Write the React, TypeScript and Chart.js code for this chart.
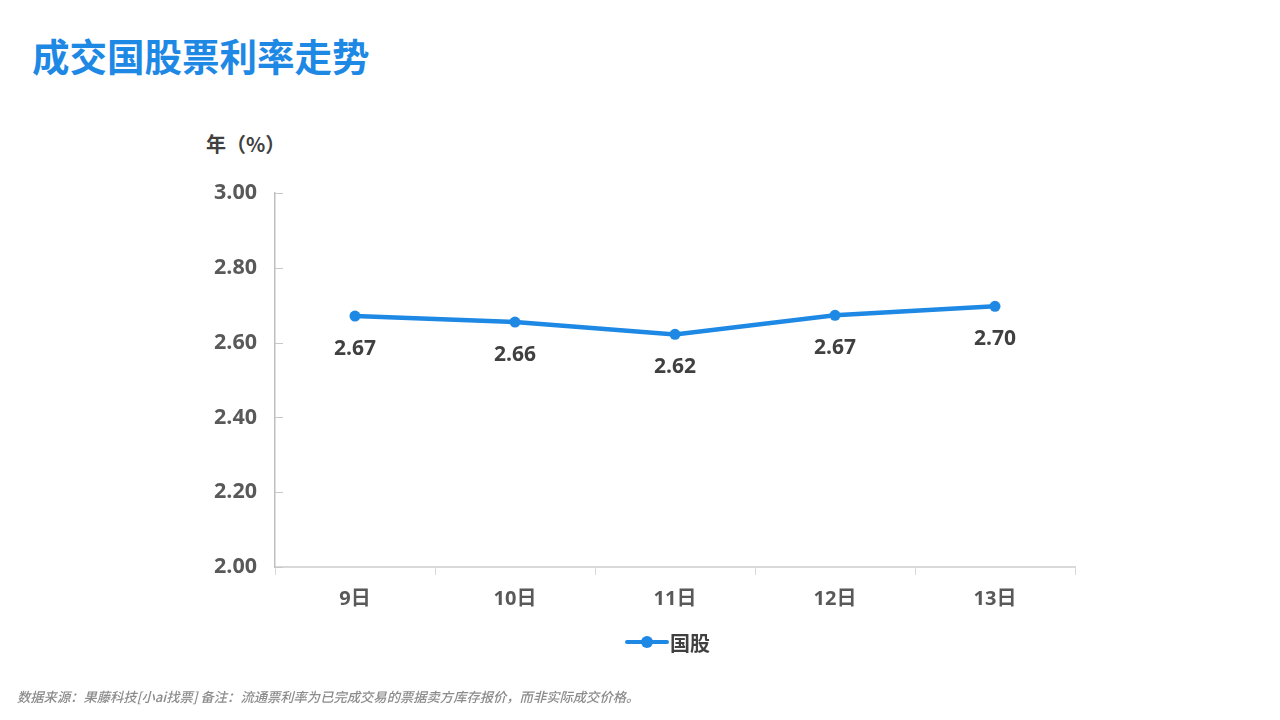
import React, { useEffect, useRef } from "react";
import { Chart, registerables } from "chart.js";

Chart.register(...registerables);

const categories = ["9日", "10日", "11日", "12日", "13日"];
const rates = [2.671, 2.655, 2.622, 2.673, 2.697];
const rateLabels = ["2.67", "2.66", "2.62", "2.67", "2.70"];
const yTicks = [2.0, 2.2, 2.4, 2.6, 2.8, 3.0];
const seriesName = "国股";

const BLUE = "#1E88E5";
const FONT = '"Open Sans", "Noto Sans CJK SC", sans-serif';

export default function App() {
  const ref = useRef<HTMLCanvasElement | null>(null);

  useEffect(() => {
    const canvas = ref.current;
    if (!canvas) return;

    const labelPlugin = {
      id: "pointLabels",
      afterDatasetsDraw(chart: any) {
        const ctx = chart.ctx;
        const meta = chart.getDatasetMeta(0);
        ctx.save();
        ctx.font = `bold 21px ${FONT}`;
        ctx.fillStyle = "#404040";
        ctx.textAlign = "center";
        ctx.textBaseline = "middle";
        meta.data.forEach((pt: any, i: number) => {
          ctx.fillText(rateLabels[i], pt.x, pt.y + 33);
        });
        ctx.restore();
      },
    };

    const yTickMarks = {
      id: "yTickMarks",
      afterDraw(chart: any) {
        const ctx = chart.ctx;
        const y = chart.scales.y;
        ctx.save();
        ctx.strokeStyle = "#c8c8c8";
        ctx.lineWidth = 1;
        yTicks.forEach((v) => {
          const py = Math.round(y.getPixelForValue(v)) + 0.5;
          ctx.beginPath();
          ctx.moveTo(chart.chartArea.left, py);
          ctx.lineTo(chart.chartArea.left + 8, py);
          ctx.stroke();
        });
        ctx.restore();
      },
    };

    const chart = new Chart(canvas, {
      type: "line",
      data: {
        labels: categories,
        datasets: [
          {
            label: seriesName,
            data: rates,
            borderColor: BLUE,
            backgroundColor: BLUE,
            borderWidth: 4.5,
            pointRadius: 5.5,
            pointBackgroundColor: BLUE,
            pointBorderWidth: 0,
            tension: 0,
          },
        ],
      },
      options: {
        animation: false,
        responsive: false,
        maintainAspectRatio: false,
        layout: { padding: { top: 193, left: 0, right: 205, bottom: 0 } },
        plugins: {
          legend: { display: false },
          tooltip: { enabled: false },
        },
        scales: {
          x: {
            type: "category",
            offset: true,
            afterFit: (s: any) => {
              s.height = 153;
            },
            grid: {
              drawOnChartArea: false,
              drawTicks: true,
              tickLength: 8,
              color: "#d9d9d9",
              offset: true,
            },
            border: { display: true, color: "#d9d9d9", width: 2 },
            ticks: {
              color: "#595959",
              font: { family: FONT, size: 20, weight: "bold" },
              padding: 12,
            },
          },
          y: {
            min: 2.0,
            max: 3.0,
            afterFit: (s: any) => {
              s.width = 275;
            },
            afterBuildTicks: (s: any) => {
              s.ticks = yTicks.map((v) => ({ value: v }));
            },
            grid: { drawOnChartArea: false, drawTicks: false },
            border: { display: true, color: "#bfbfbf", width: 1.5 },
            ticks: {
              color: "#595959",
              font: { family: FONT, size: 21.5, weight: "bold" },
              padding: 18,
              callback: (v: any) => Number(v).toFixed(2),
            },
          },
        },
      },
      plugins: [labelPlugin, yTickMarks],
    });

    return () => chart.destroy();
  }, []);

  return (
    <div
      style={{
        position: "fixed",
        left: 0,
        top: 0,
        width: 1280,
        height: 720,
        background: "#ffffff",
        overflow: "hidden",
        fontFamily: FONT,
      }}
    >
      <div
        style={{
          position: "absolute",
          left: 32,
          top: 32,
          fontSize: 37.5,
          fontWeight: 700,
          color: BLUE,
          fontFamily: '"Noto Sans CJK SC", sans-serif',
          lineHeight: "46px",
          whiteSpace: "nowrap",
        }}
      >
        成交国股票利率走势
      </div>
      <div
        style={{
          position: "absolute",
          left: 206,
          top: 131,
          fontSize: 20,
          fontWeight: 700,
          color: "#404040",
          fontFamily: '"Noto Sans CJK SC", sans-serif',
          lineHeight: "26px",
          whiteSpace: "nowrap",
        }}
      >
        年（%）
      </div>
      <canvas
        ref={ref}
        width={1280}
        height={720}
        style={{ position: "absolute", left: 0, top: 0, width: 1280, height: 720 }}
      />
      <div
        style={{
          position: "absolute",
          left: 625,
          top: 629,
          height: 26,
          display: "flex",
          alignItems: "center",
          whiteSpace: "nowrap",
        }}
      >
        <div style={{ position: "relative", width: 44, height: 26 }}>
          <div
            style={{
              position: "absolute",
              left: 0,
              top: 11,
              width: 44,
              height: 4,
              borderRadius: 2,
              background: BLUE,
            }}
          />
          <div
            style={{
              position: "absolute",
              left: 16,
              top: 7,
              width: 12,
              height: 12,
              borderRadius: 6,
              background: BLUE,
            }}
          />
        </div>
        <span
          style={{
            fontSize: 20,
            fontWeight: 700,
            color: "#404040",
            fontFamily: '"Noto Sans CJK SC", sans-serif',
            marginLeft: 1,
          }}
        >
          {seriesName}
        </span>
      </div>
      <div
        style={{
          position: "absolute",
          left: 17,
          top: 688,
          fontSize: 13.3,
          fontStyle: "italic",
          fontWeight: 500,
          color: "#8c8c8c",
          fontFamily: '"Noto Sans CJK SC", sans-serif',
          lineHeight: "18px",
          whiteSpace: "nowrap",
        }}
      >
        数据来源：果藤科技[小ai找票] 备注：流通票利率为已完成交易的票据卖方库存报价，而非实际成交价格。
      </div>
    </div>
  );
}
